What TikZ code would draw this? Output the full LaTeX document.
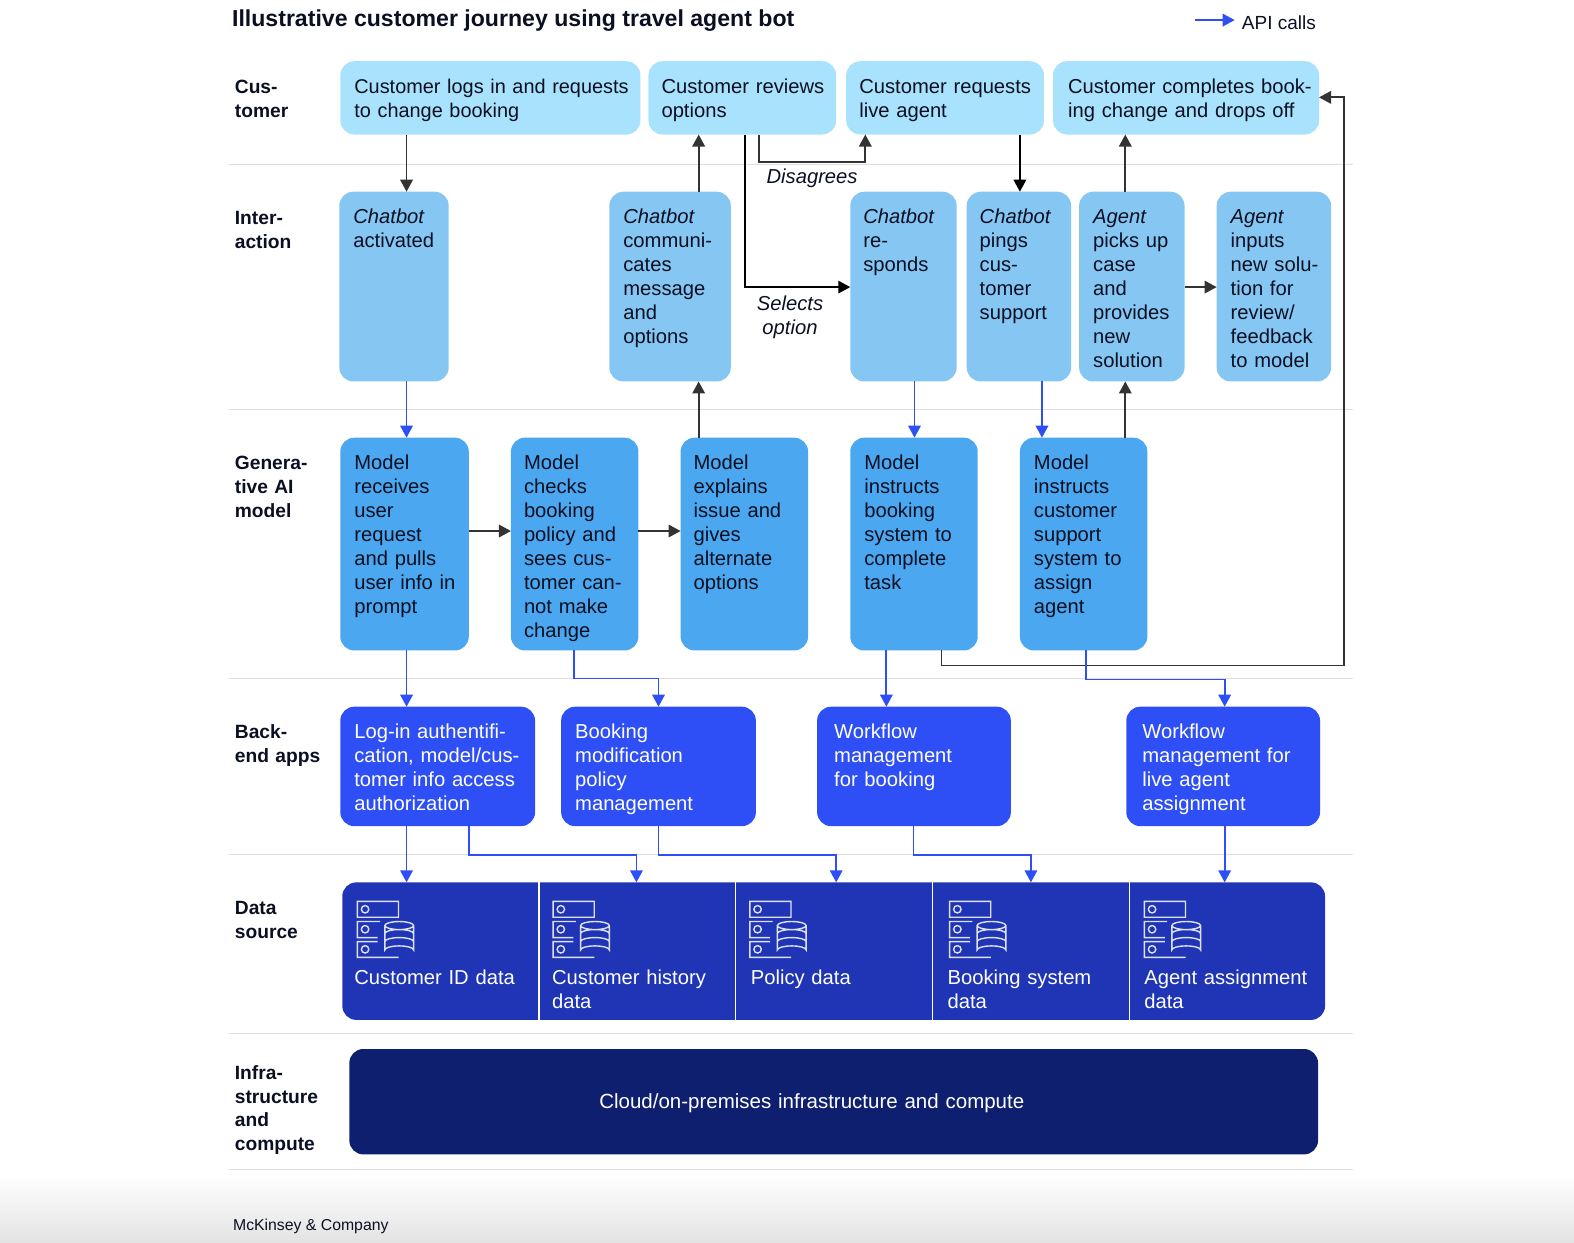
\documentclass[tikz,border=0pt]{standalone}
\usepackage{fontspec}
\setmainfont{Liberation Sans}
\usetikzlibrary{arrows.meta,calc}
\definecolor{custcol}{HTML}{A9E2FC}
\definecolor{actcol}{HTML}{85C6F3}
\definecolor{modelcol}{HTML}{4BA7EF}
\definecolor{appcol}{HTML}{2E4FF5}
\definecolor{datacol}{HTML}{1F35B5}
\definecolor{infracol}{HTML}{0E1F70}
\definecolor{inkcol}{HTML}{0A1022}
\definecolor{flowcol}{HTML}{333333}
\newdimen\gridpx
\gridpx=1.0038pt
\newcommand{\bodyfont}{\fontsize{20.2}{23.9}\selectfont}
\tikzset{>={Triangle[length=12pt,width=12.5pt]},
  box/.style n args={3}{
    anchor=north west,
    outer sep=0pt,
    inner xsep=0pt,
    inner ysep=0pt,
    rounded corners=14pt,
    text=inkcol,
    minimum width=#1*\gridpx,
    text width=#1*\gridpx,
    execute at begin node={\leftskip=#3\gridpx \rightskip=0pt plus 1fil \parindent=0pt},
    text height=32*\gridpx,
    text depth=(#2-32)*\gridpx,
  },
  lane/.style={anchor=north west, inner sep=0pt, outer sep=0pt, align=left,
    text width=100pt, text height=32*\gridpx, text depth=4pt, text=inkcol,
    font=\bfseries\fontsize{19.2}{23.9}\selectfont},
  rule/.style={draw=black!13, line width=1pt},
  flow/.style={draw=flowcol, line width=1.8pt},
  api/.style={draw=appcol, line width=1.8pt},
  note/.style={font=\itshape\bodyfont, text=inkcol, align=center, inner sep=0pt},
  dbicon/.pic={
    \draw [white!85!datacol, line width=1.4pt]
    (0,0) rectangle (41,15.7)
    (22.7,20) -- (0,20) -- (0,36) -- (20.3,36)
    (20.3,40) -- (0,40) -- (0,55.7) -- (41,55.7)
    (7.7,7.8) circle (3.7) (7.7,27.7) circle (3.7) (7.7,47.7) circle (3.7);
    \draw [white!85!datacol, line width=1.4pt]
    (41.7,24) ellipse [x radius=14.3, y radius=4]
    (27.4,24) -- (27.4,48.3) arc [start angle=180, end angle=360, x radius=14.3, y radius=4] -- (56,24)
    (27.4,32) arc [start angle=180, end angle=360, x radius=14.3, y radius=4]
    (27.4,40) arc [start angle=180, end angle=360, x radius=14.3, y radius=4];
  },
}
\begin{document}
\begin{tikzpicture}[x=\gridpx, y=-\gridpx, font=\bodyfont]
    \useasboundingbox (0,0) rectangle (1568,1237.3);
    \shade [top color=white, bottom color=black!11] (0,1170) rectangle (1568,1237.3);

    \foreach \rowy in {163.5,408,676,851,1030,1165}
      \draw [rule] (228,\rowy) -- (1348,\rowy);

    \node [anchor=base west, inner sep=0pt, font=\bfseries\fontsize{23.1}{26}\selectfont, text=inkcol]
    (title) at (231,26) {Illustrative customer journey using travel agent bot};
    \coordinate (keyfrom) at (1190,20);
    \node [anchor=base west, inner sep=0pt, font=\fontsize{19}{23}\selectfont, text=inkcol]
    (keytext) at (1237,29) {API calls};
    \draw [api,->] (keyfrom) -- ($(keytext.west |- keyfrom)+(-7,0)$);
    \node [anchor=base west, inner sep=0pt, font=\fontsize{15.8}{18}\selectfont, text=inkcol]
    (source) at (232,1226) {McKinsey \& Company};

    % lane labels
    \node [lane] (cust) at (234,61) {Cus-\\tomer};
    \node [lane] (inter) at (234,192) {Inter-\\action};
    \node [lane] (genai) at (234,436) {Genera-\\tive AI\\model};
    \node [lane] (apps) at (234,704) {Back-\\end apps};
    \node [lane] (datasrc) at (234,879) {Data\\source};
    \node [lane] (compute) at (234,1043) {Infra-\\structure\\and\\compute};

    % customer
    \node [box={299}{73}{14}, fill=custcol, font=\fontsize{19.9}{23.9}\selectfont] (login) at (339,61)
    {Customer logs in and requests\\to change booking};
    \node [box={187}{73}{13}, fill=custcol] (reviews) at (646,61)
    {Customer reviews\\options};
    \node [box={197}{73}{13}, fill=custcol] (requests) at (843,61)
    {Customer requests\\live agent};
    \node [box={265}{73}{15}, fill=custcol] (completes) at (1049,61)
    {Customer completes book-\\ing change and drops off};

    % interaction
    \node [box={109}{189}{14}, fill=actcol] (activated) at (338,191)
    {\textit{Chatbot}\\activated};
    \node [box={121}{189}{14}, fill=actcol] (message) at (607,191)
    {\textit{Chatbot}\\communi-\\cates\\message\\and\\options};
    \node [box={106}{189}{13}, fill=actcol] (responds) at (847,191)
    {\textit{Chatbot}\\re-\\sponds};
    \node [box={104}{189}{13}, fill=actcol] (pings) at (963,191)
    {\textit{Chatbot}\\pings\\cus-\\tomer\\support};
    \node [box={105}{189}{14}, fill=actcol] (picks) at (1075,191)
    {\textit{Agent}\\picks up\\case\\and\\provides\\new\\solution};
    \node [box={114}{189}{14}, fill=actcol] (inputs) at (1212,191)
    {\textit{Agent}\\inputs\\new solu-\\tion for\\review/\\feedback\\to model};

    % model
    \node [box={128}{212}{14}, fill=modelcol] (pulls) at (339,436)
    {Model\\receives\\user\\request\\and pulls\\user info in\\prompt};
    \node [box={127}{212}{13}, fill=modelcol] (checks) at (509,436)
    {Model\\checks\\booking\\policy and\\sees cus-\\tomer can-\\not make\\change};
    \node [box={127}{212}{13}, fill=modelcol] (explains) at (678,436)
    {Model\\explains\\issue and\\gives\\alternate\\options};
    \node [box={127}{212}{14}, fill=modelcol] (instructs) at (847,436)
    {Model\\instructs\\booking\\system to\\complete\\task};
    \node [box={127}{212}{14}, fill=modelcol] (assigns) at (1016,436)
    {Model\\instructs\\customer\\support\\system to\\assign\\agent};

    % back-end apps
    \node [box={194}{119}{14}, fill=appcol, text=white] (auth) at (339,704)
    {Log-in authentifi-\\cation, model/cus-\\tomer info access\\authorization};
    \node [box={194}{119}{14}, fill=appcol, text=white] (policy) at (559,704)
    {Booking\\modification\\policy\\management};
    \node [box={193}{119}{17}, fill=appcol, text=white] (workflow) at (814,704)
    {Workflow\\management\\for booking};
    \node [box={193}{119}{16}, fill=appcol, text=white] (liveflow) at (1122,704)
    {Workflow\\management for\\live agent\\assignment};

    % data source
    \node [box={979}{137}{0}, fill=datacol] (datarow) at (341,879) {};
    \tikzset{cell/.style={text=white, text height=102*\gridpx, text depth=35*\gridpx, rounded corners=0pt}}
    \node [box={196}{137}{12}, cell] (idcell) at (341,879) {Customer ID data};
    \node [box={196}{137}{13}, cell] (historycell) at (537,879) {Customer history\\data};
    \node [box={196}{137}{15}, cell] (policycell) at (733,879) {Policy data};
    \node [box={196}{137}{15}, cell] (bookingcell) at (929,879) {Booking system\\data};
    \node [box={195}{137}{15}, cell] (agentcell) at (1125,879) {Agent assignment\\data};
    \foreach \cellname in {idcell,historycell,policycell,bookingcell}
      \draw [white, line width=1.3pt] (\cellname.north east) -- (\cellname.south east);
    \foreach \iconx in {356,551,747,946,1140}
      \pic at (\iconx,898) {dbicon};

    % infrastructure
    \node [box={965}{105}{249}, fill=infracol, text=white, text height=59*\gridpx, text depth=46*\gridpx,
    font=\fontsize{20.5}{24}\selectfont]
    (infra) at (348,1045) {Cloud/on-premises infrastructure and compute};

    % customer and interaction flows
    \draw [flow,->] (405,0 |- login.south) -- (405,0 |- activated.north);
    \draw [flow,->] (696,0 |- message.north) -- (696,0 |- reviews.south);
    \draw [flow,->] (756,0 |- reviews.south) -- ++(0,27) -| (862,0 |- requests.south);
    \node [note] (disagrees) at (809,178) {Disagrees};
    \draw [flow,->,draw=black] (742,0 |- reviews.south) |- (responds.west |- 0,286);
    \node [note] (selects) at (787,316) {Selects\\option};
    \draw [flow,->,draw=black] (1016,0 |- requests.south) -- (1016,0 |- pings.north);
    \draw [flow,->] (1121,0 |- picks.north) -- (1121,0 |- completes.south);
    \draw [flow,->] (picks.east |- 0,286) -- (inputs.west |- 0,286);

    % model flows
    \draw [api,->] (405,0 |- activated.south) -- (405,0 |- pulls.north);
    \draw [flow,->] (696,0 |- explains.north) -- (696,0 |- message.south);
    \draw [api,->] (911,0 |- responds.south) -- (911,0 |- instructs.north);
    \draw [api,->] (1038,0 |- pings.south) -- (1038,0 |- assigns.north);
    \draw [flow,->] (1121,0 |- assigns.north) -- (1121,0 |- picks.south);
    \draw [flow,->] (pulls.east |- 0,529) -- (checks.west |- 0,529);
    \draw [flow,->] (checks.east |- 0,529) -- (explains.west |- 0,529);

    % api flows
    \draw [api,->] (405,0 |- pulls.south) -- (405,0 |- auth.north);
    \draw [api,->] (572,0 |- checks.south) |- (656,676) -- (656,0 |- policy.north);
    \draw [api,->] (883,0 |- instructs.south) -- (883,0 |- workflow.north);
    \draw [flow,->] (938,0 |- instructs.south) |- (1339,663) |- (completes.east |- 0,97);
    \draw [api,->] (1082,0 |- assigns.south) |- (1220,677) -- (1220,0 |- liveflow.north);
    \draw [api,->] (405,0 |- auth.south) -- (405,0 |- idcell.north);
    \draw [api,->] (467,0 |- auth.south) |- (634,852) -- (634,0 |- historycell.north);
    \draw [api,->] (656,0 |- policy.south) |- (833,852) -- (833,0 |- policycell.north);
    \draw [api,->] (910,0 |- workflow.south) |- (1027,852) -- (1027,0 |- bookingcell.north);
    \draw [api,->] (1220,0 |- liveflow.south) -- (1220,0 |- agentcell.north);

\end{tikzpicture}
\end{document}
